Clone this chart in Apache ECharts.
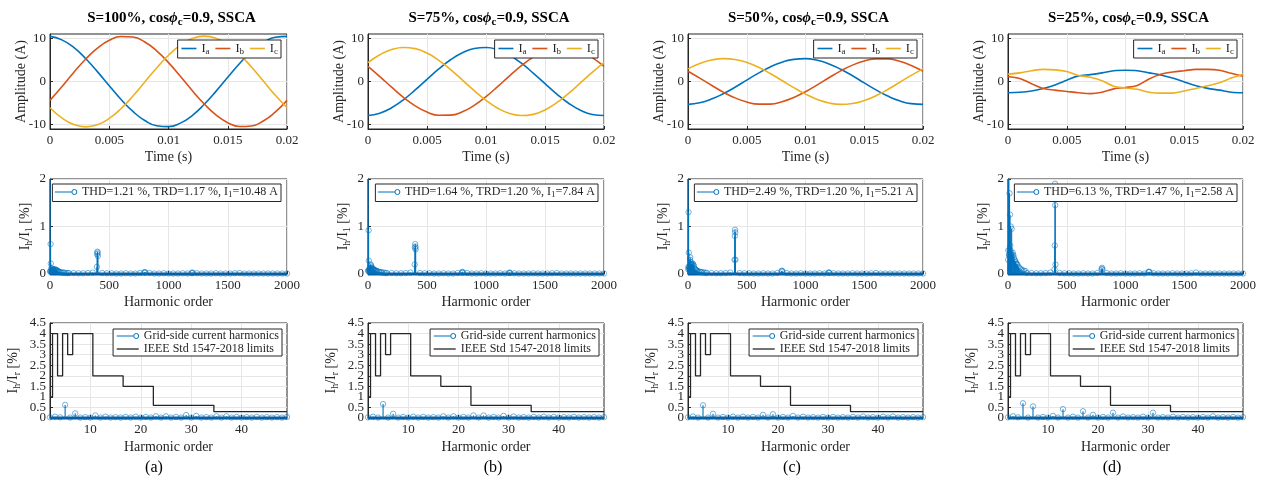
<!DOCTYPE html>
<html>
<head>
<meta charset="utf-8">
<script src="https://cdn.jsdelivr.net/npm/echarts@6/dist/echarts.min.js"></script>
<style>
  html, body { margin: 0; padding: 0; background: #fff; }
  #chart { width: 1267px; height: 483px; }
</style>
</head>
<body>
<div id="chart"></div>
<script>
// ---------------- data ----------------
const panelTags = ['(a)', '(b)', '(c)', '(d)'];
const loadLevels = ['100%', '75%', '50%', '25%'];
const thdValues = ['1.21', '1.64', '2.49', '6.13'];
const trdValues = ['1.17', '1.20', '1.20', '1.47'];
const fundamentalAmps = ['10.48', '7.84', '5.21', '2.58'];

// one grid period of the phase currents (s)
const timeAxis = [0, 0.001, 0.002, 0.003, 0.004, 0.005, 0.006, 0.007, 0.008, 0.009, 0.01,
  0.011, 0.012, 0.013, 0.014, 0.015, 0.016, 0.017, 0.018, 0.019, 0.02];

const ia100 = [10.45, 9.64, 7.88, 5.34, 2.29, -0.99, -4.17, -6.94, -9.04, -10.25, -10.45, -9.64, -7.88, -5.34, -2.29, 0.99, 4.17, 6.94, 9.04, 10.25, 10.45];
const ib100 = [-4.37, -1.21, 2.08, 5.15, 7.73, 9.55, 10.43, 10.29, 9.15, 7.11, 4.37, 1.21, -2.08, -5.15, -7.73, -9.55, -10.43, -10.29, -9.15, -7.11, -4.37];
const ic100 = [-6.08, -8.43, -9.95, -10.5, -10.02, -8.56, -6.26, -3.35, -0.11, 3.14, 6.08, 8.43, 9.95, 10.5, 10.02, 8.56, 6.26, 3.35, 0.11, -3.14, -6.08];

const ia75 = [-7.88, -7.35, -6.09, -4.23, -1.96, 0.5, 2.91, 5.04, 6.67, 7.65, 7.88, 7.35, 6.09, 4.23, 1.96, -0.5, -2.91, -5.04, -6.67, -7.65, -7.88];
const ib75 = [3.51, 1.15, -1.32, -3.66, -5.64, -7.08, -7.82, -7.79, -7.0, -5.53, -3.51, -1.15, 1.32, 3.66, 5.64, 7.08, 7.82, 7.79, 7.0, 5.53, 3.51];
const ic75 = [4.37, 6.19, 7.4, 7.89, 7.61, 6.58, 4.91, 2.75, 0.33, -2.12, -4.37, -6.19, -7.4, -7.89, -7.61, -6.58, -4.91, -2.75, -0.33, 2.12, 4.37];

const ia50 = [-5.29, -4.93, -4.08, -2.84, -1.32, 0.33, 1.95, 3.38, 4.47, 5.13, 5.29, 4.93, 4.08, 2.84, 1.32, -0.33, -1.95, -3.38, -4.47, -5.13, -5.29];
const ib50 = [2.36, 0.77, -0.88, -2.46, -3.79, -4.75, -5.24, -5.23, -4.7, -3.71, -2.36, -0.77, 0.88, 2.46, 3.79, 4.75, 5.24, 5.23, 4.7, 3.71, 2.36];
const ic50 = [2.93, 4.15, 4.97, 5.3, 5.1, 4.41, 3.29, 1.85, 0.22, -1.43, -2.93, -4.15, -4.97, -5.3, -5.1, -4.41, -3.29, -1.85, -0.22, 1.43, 2.93];

const ia25 = [-2.6, -2.5, -2.2, -1.6, -0.8, 0.3, 1.3, 1.6, 2.0, 2.5, 2.6, 2.5, 2.0, 1.5, 0.8, -0.1, -1.0, -1.6, -2.0, -2.5, -2.6];
const ib25 = [1.1, 0.7, -0.5, -1.6, -2.0, -2.3, -2.6, -2.8, -2.5, -1.7, -1.4, -0.9, 0.6, 1.7, 2.2, 2.5, 2.8, 2.8, 2.6, 1.9, 1.2];
const ic25 = [1.7, 2.0, 2.5, 2.8, 2.7, 2.3, 1.4, 1.0, 0.2, -1.1, -1.5, -1.8, -2.5, -2.7, -2.7, -2.2, -1.6, -1.0, -0.3, 0.8, 1.7];

// harmonic spectrum in % of the fundamental
const lowOrders = [1, 2, 3, 5, 7, 9, 11, 13, 15, 17, 19, 21, 23, 25, 27, 29, 31, 35, 40, 45, 50, 55, 60, 65, 70, 75, 80, 90, 100, 110, 120, 135, 150];
const lowMag100 = [100, 0.05, 0.06, 0.63, 0.22, 0.05, 0.12, 0.06, 0.05, 0.08, 0.06, 0.07, 0.1, 0.09, 0.07, 0.1, 0.09, 0.08, 0.09, 0.1, 0.08, 0.07, 0.08, 0.06, 0.05, 0.05, 0.04, 0.04, 0.03, 0.03, 0.03, 0.02, 0.02];
const lowMag75 = [100, 0.06, 0.08, 0.92, 0.28, 0.06, 0.1, 0.08, 0.06, 0.12, 0.12, 0.1, 0.2, 0.18, 0.1, 0.15, 0.12, 0.1, 0.12, 0.1, 0.09, 0.08, 0.08, 0.07, 0.06, 0.06, 0.05, 0.05, 0.04, 0.04, 0.03, 0.03, 0.02];
const lowMag50 = [100, 0.1, 0.15, 1.3, 0.45, 0.1, 0.15, 0.15, 0.1, 0.3, 0.35, 0.2, 0.22, 0.25, 0.15, 0.2, 0.18, 0.2, 0.22, 0.2, 0.17, 0.12, 0.1, 0.09, 0.08, 0.07, 0.06, 0.05, 0.05, 0.04, 0.04, 0.03, 0.03];
const lowMag25 = [100, 0.3, 0.5, 2.8, 2.2, 0.4, 0.4, 1.7, 0.5, 1.25, 0.6, 0.5, 1.0, 0.45, 0.4, 0.35, 0.95, 0.4, 0.45, 0.4, 0.35, 0.3, 0.28, 0.25, 0.22, 0.2, 0.2, 0.15, 0.12, 0.1, 0.08, 0.07, 0.06];

const switchOrders = [396, 398, 400, 402, 404];
const switchMag100 = [0.15, 0.42, 0.47, 0.45, 0.38];
const switchMag75 = [0.2, 0.55, 0.63, 0.58, 0.52];
const switchMag50 = [0.3, 0.8, 0.93, 0.88, 0.3];
const switchMag25 = [0.1, 0.6, 1.9, 1.45, 0.2];

const sidebandOrders = [796, 800, 804, 1196, 1200, 1204, 1600];
const sidebandMag100 = [0.03, 0.04, 0.03, 0.02, 0.03, 0.02, 0.02];
const sidebandMag75 = [0.03, 0.045, 0.03, 0.02, 0.03, 0.02, 0.02];
const sidebandMag50 = [0.06, 0.07, 0.05, 0.03, 0.03, 0.02, 0.02];
const sidebandMag25 = [0.1, 0.13, 0.1, 0.04, 0.05, 0.04, 0.03];

const floorOrders = [160, 200, 240, 280, 320, 360, 440, 480, 520, 560, 600, 640, 680, 720, 760,
  840, 880, 920, 960, 1000, 1040, 1080, 1120, 1160, 1240, 1280, 1320, 1360, 1400, 1440, 1480, 1520, 1560,
  1640, 1680, 1720, 1760, 1800, 1840, 1880, 1920, 1960, 2000];
const floorMag = [0.02, 0.02, 0.015, 0.015, 0.02, 0.03, 0.02, 0.015, 0.015, 0.01, 0.01, 0.015, 0.01, 0.01, 0.02,
  0.02, 0.01, 0.01, 0.015, 0.01, 0.01, 0.01, 0.015, 0.01, 0.015, 0.01, 0.01, 0.01, 0.015, 0.01, 0.01, 0.01, 0.015,
  0.01, 0.01, 0.01, 0.01, 0.01, 0.01, 0.01, 0.01, 0.01, 0.01];

// grid-side harmonics (% of rated current) against IEEE Std 1547-2018
const gridOrders = [2, 3, 4, 5, 6, 7, 8, 9, 10, 11, 12, 13, 14, 15, 16, 17, 18, 19, 20, 21, 22, 23, 24, 25,
  26, 27, 28, 29, 30, 31, 32, 33, 34, 35, 36, 37, 38, 39, 40, 41, 42, 43, 44, 45, 46, 47, 48, 49];
const limit1547 = [1, 4, 2, 4, 3, 4, 4, 4, 4, 2, 2, 2, 2, 2, 2, 1.5, 1.5, 1.5, 1.5, 1.5, 1.5, 0.6, 0.6, 0.6,
  0.6, 0.6, 0.6, 0.6, 0.6, 0.6, 0.6, 0.6, 0.6, 0.3, 0.3, 0.3, 0.3, 0.3, 0.3, 0.3, 0.3, 0.3, 0.3, 0.3, 0.3, 0.3, 0.3, 0.3];
const gridMag100 = [0.03, 0.06, 0.03, 0.62, 0.02, 0.22, 0.02, 0.04, 0.02, 0.12, 0.02, 0.06, 0.02, 0.04, 0.02, 0.05, 0.02, 0.06, 0.02, 0.05, 0.02, 0.08, 0.02, 0.08,
  0.02, 0.05, 0.02, 0.14, 0.02, 0.1, 0.02, 0.04, 0.02, 0.08, 0.02, 0.08, 0.02, 0.05, 0.02, 0.04, 0.02, 0.05, 0.02, 0.04, 0.02, 0.04, 0.02, 0.05];
const gridMag75 = [0.03, 0.06, 0.02, 0.66, 0.02, 0.2, 0.02, 0.05, 0.02, 0.06, 0.02, 0.05, 0.02, 0.04, 0.02, 0.08, 0.02, 0.08, 0.02, 0.05, 0.02, 0.12, 0.02, 0.12,
  0.02, 0.05, 0.02, 0.1, 0.02, 0.07, 0.02, 0.04, 0.02, 0.05, 0.02, 0.06, 0.02, 0.05, 0.02, 0.04, 0.02, 0.05, 0.02, 0.04, 0.02, 0.04, 0.02, 0.04];
const gridMag50 = [0.03, 0.07, 0.02, 0.6, 0.02, 0.2, 0.02, 0.05, 0.02, 0.06, 0.02, 0.06, 0.02, 0.05, 0.02, 0.15, 0.02, 0.18, 0.02, 0.05, 0.02, 0.1, 0.02, 0.06,
  0.02, 0.04, 0.02, 0.05, 0.02, 0.05, 0.02, 0.04, 0.02, 0.05, 0.02, 0.07, 0.02, 0.04, 0.02, 0.06, 0.02, 0.07, 0.02, 0.04, 0.02, 0.04, 0.02, 0.04];
const gridMag25 = [0.03, 0.08, 0.03, 0.7, 0.02, 0.55, 0.02, 0.05, 0.02, 0.1, 0.02, 0.42, 0.02, 0.06, 0.02, 0.32, 0.02, 0.15, 0.02, 0.05, 0.02, 0.25, 0.02, 0.07,
  0.02, 0.04, 0.02, 0.06, 0.02, 0.25, 0.02, 0.04, 0.02, 0.06, 0.02, 0.05, 0.02, 0.04, 0.02, 0.05, 0.02, 0.08, 0.02, 0.04, 0.02, 0.05, 0.02, 0.04];

// axis tick labels
const timeTicks = { min: 0, max: 0.02, step: 0.005 };
const currentTicks = [-10, 0, 10];
const orderTicksWide = { min: 0, max: 2000, step: 500 };
const ratioTicks = { min: 0, max: 2, step: 1 };
const orderTicksNarrow = [10, 20, 30, 40];
const limitTicks = [0, 0.5, 1, 1.5, 2, 2.5, 3, 3.5, 4, 4.5];
const limitLabelsWhole = [0, 1, 2, 3, 4];
const limitLabelsHalf = [0.5, 1.5, 2.5, 3.5, 4.5];

// per-column lookup of the arrays above
const phaseCurrents = [[ia100, ib100, ic100], [ia75, ib75, ic75], [ia50, ib50, ic50], [ia25, ib25, ic25]];
const lowMags = [lowMag100, lowMag75, lowMag50, lowMag25];
const switchMags = [switchMag100, switchMag75, switchMag50, switchMag25];
const sidebandMags = [sidebandMag100, sidebandMag75, sidebandMag50, sidebandMag25];
const gridMags = [gridMag100, gridMag75, gridMag50, gridMag25];

// ---------------- layout & style ----------------
const W = 1267;
const FONT = 'Liberation Serif';
const INK = '#262626';
const BLUE = '#0072BD', RED = '#D95319', YELLOW = '#EDB120';
const BAND = '#0b5a99';
const GRIDLINE = '#e6e6e6';
const colLeft = [50, 368, 688, 1008];
const colWidth = [237, 236, 235, 235];
const rowTop = [34, 179, 323];
const plotHeight = 95;
// legend glyphs: line with a hollow marker at its end, and a plain line
const STEM_ICON = 'path://M0 3 L17 3 M22 3 A2.5 2.5 0 1 1 17 3 A2.5 2.5 0 1 1 22 3';
const LINE_ICON_ROW3 = 'path://M0 0 M22 6 M0 3 L22 3';
const LINE_ICON_ROW1 = 'path://M0 0 M15 10 M0 5 L15 5';

const pairs = (xs, ys) => xs.map((x, i) => [x, ys[i]]);
const plainNumber = v => String(+v.toFixed(6));

const subRich = (size, lh) => ({
  m: { fontFamily: FONT, fontSize: size, color: INK, lineHeight: lh },
  s: { fontFamily: FONT, fontSize: Math.round(size * 0.72), color: INK, lineHeight: Math.round(size * 0.72), verticalAlign: 'bottom' }
});

// stem with hollow marker; the first item also lays the dark zero band
function stemItem(params, api) {
  const h = api.value(0), v = api.value(1);
  const base = api.coord([h, 0]);
  const tip = api.coord([h, v]);
  const box = params.coordSys;
  const clipped = tip[1] < box.y;
  const children = [];
  if (params.dataIndex === 0) {
    children.push({
      type: 'line', z2: -1,
      shape: { x1: box.x, y1: base[1], x2: box.x + box.width, y2: base[1] },
      style: { stroke: BAND, lineWidth: 3 }
    });
  }
  children.push({
    type: 'line',
    shape: { x1: base[0], y1: base[1], x2: tip[0], y2: clipped ? box.y : tip[1] },
    style: { stroke: BLUE, lineWidth: 1.1 }
  });
  if (!clipped) {
    children.push({
      type: 'circle',
      shape: { cx: tip[0], cy: tip[1], r: 2.7 },
      style: { fill: 'none', stroke: BLUE, lineWidth: 0.9, opacity: 0.6 }
    });
  }
  return { type: 'group', children };
}

function valueAxis(gridIndex, o) {
  return {
    type: 'value', gridIndex, position: o.position,
    min: o.min, max: o.max, interval: o.interval,
    name: o.name, nameLocation: 'middle', nameGap: o.nameGap, nameMoveOverlap: false,
    nameTextStyle: { fontFamily: FONT, fontSize: 14, color: INK, rich: subRich(14, 18) },
    axisLine: { show: o.bare ? false : true, onZero: false, lineStyle: { color: INK, width: 1 } },
    axisTick: { show: o.bare ? false : true, inside: true, length: 3, lineStyle: { color: INK }, customValues: o.ticks },
    axisLabel: { show: true, color: INK, fontFamily: FONT, fontSize: 13, margin: o.margin,
      customValues: o.labels || o.ticks, formatter: plainNumber, showMinLabel: true, showMaxLabel: true, hideOverlap: false },
    splitLine: { show: o.bare ? false : true, lineStyle: { color: GRIDLINE, width: 1 } }
  };
}

const grids = [], xAxes = [], yAxes = [], series = [], legends = [], titles = [];

for (let c = 0; c < 4; c++) {
  const right = W - (colLeft[c] + colWidth[c]);
  const center = colLeft[c] + colWidth[c] / 2;

  // header
  titles.push({
    text: '{b|S=' + loadLevels[c] + ', cos}{p|\u03d5}{sub|c}{b|=0.9, SSCA}',
    left: center + 3, top: 8, textAlign: 'center', padding: 0,
    textStyle: {
      fontFamily: FONT,
      rich: {
        b: { fontFamily: FONT, fontSize: 15, fontWeight: 'bold', color: '#000', lineHeight: 20 },
        p: { fontFamily: FONT, fontSize: 15, fontWeight: 'bold', fontStyle: 'italic', color: '#000', lineHeight: 20 },
        sub: { fontFamily: FONT, fontSize: 11, fontWeight: 'bold', color: '#000', lineHeight: 11, verticalAlign: 'bottom' }
      }
    }
  });
  const tagX = [154, 493, 792, 1112][c];
  titles.push({
    text: panelTags[c], left: tagX, top: 460, textAlign: 'center', padding: 0,
    textStyle: { fontFamily: FONT, fontSize: 16, fontWeight: 'normal', color: '#000' }
  });

  const g = [];
  for (let r = 0; r < 3; r++) {
    g.push(grids.push({
      left: colLeft[c], top: rowTop[r], width: colWidth[c], height: plotHeight,
      show: true, borderColor: INK, borderWidth: 1, backgroundColor: '#fff',
      containLabel: false, outerBoundsMode: 'none'
    }) - 1);
  }

  // row 1: phase currents
  const x0 = xAxes.push(valueAxis(g[0], { min: timeTicks.min, max: timeTicks.max, interval: timeTicks.step, name: 'Time (s)', nameGap: 21, margin: 5 })) - 1;
  const y0 = yAxes.push(valueAxis(g[0], { min: -11, max: 11, ticks: currentTicks, name: 'Amplitude (A)', nameGap: 22, margin: 4 })) - 1;
  const phaseNames = ['Ia', 'Ib', 'Ic'];
  const phaseColors = [BLUE, RED, YELLOW];
  phaseNames.forEach((n, k) => {
    series.push({
      type: 'line', name: n, xAxisIndex: x0, yAxisIndex: y0,
      data: pairs(timeAxis, phaseCurrents[c][k]),
      smooth: c === 3 ? 0.35 : true, showSymbol: false, symbol: 'none',
      lineStyle: { color: phaseColors[k], width: 1.6 }, itemStyle: { color: phaseColors[k] },
      clip: true, animation: false
    });
  });
  legends.push({
    right: right + 6, top: rowTop[0] + 6, orient: 'horizontal', selectedMode: false,
    data: phaseNames.map((n, k) => ({
      name: n, icon: LINE_ICON_ROW1,
      itemStyle: { color: 'rgba(0,0,0,0)', borderColor: phaseColors[k], borderWidth: 1.6 }
    })),
    itemWidth: 15, itemHeight: 10, itemGap: 5, padding: [2, 3, 2, 3],
    formatter: n => '{m|I}{s|' + n.slice(1) + '}',
    textStyle: { fontFamily: FONT, fontSize: 12.5, color: INK, rich: subRich(12.5, 15) },
    borderColor: INK, borderWidth: 1, backgroundColor: '#fff', borderRadius: 0
  });

  // row 2: harmonic spectrum
  const specName = 'THD=' + thdValues[c] + ' %, TRD=' + trdValues[c] + ' %, I1=' + fundamentalAmps[c] + ' A';
  const specData = pairs(lowOrders, lowMags[c])
    .concat(pairs(switchOrders, switchMags[c]))
    .concat(pairs(sidebandOrders, sidebandMags[c]))
    .concat(pairs(floorOrders, floorMag));
  const x1 = xAxes.push(valueAxis(g[1], { min: orderTicksWide.min, max: orderTicksWide.max, interval: orderTicksWide.step, name: 'Harmonic order', nameGap: 21, margin: 5 })) - 1;
  const y1 = yAxes.push(valueAxis(g[1], { min: ratioTicks.min, max: ratioTicks.max, interval: ratioTicks.step,
    name: '{m|I}{s|h}{m|/I}{s|1}{m| [%]}', nameGap: 16, margin: 4 })) - 1;
  series.push({
    type: 'custom', name: specName, xAxisIndex: x1, yAxisIndex: y1,
    encode: { x: 0, y: 1 }, dimensions: ['order', 'ratio'],
    renderItem: stemItem, data: specData, itemStyle: { color: BLUE }, animation: false
  });
  legends.push({
    right: right + 6, top: rowTop[1] + 5, orient: 'horizontal', selectedMode: false,
    data: [{ name: specName, icon: STEM_ICON, itemStyle: { color: 'rgba(0,0,0,0)', borderColor: BLUE, borderWidth: 1 } }],
    itemWidth: 22, itemHeight: 6, padding: [2, 3, 2, 2],
    formatter: () => '{m|THD=' + thdValues[c] + ' %, TRD=' + trdValues[c] + ' %, I}{s|1}{m|=' + fundamentalAmps[c] + ' A}',
    textStyle: { fontFamily: FONT, fontSize: 12, color: INK, rich: subRich(12, 15) },
    borderColor: INK, borderWidth: 1, backgroundColor: '#fff'
  });

  // row 3: grid-side harmonics vs. limits (labels split over two stacked left axes)
  const x2 = xAxes.push(valueAxis(g[2], { min: 2, max: 49, ticks: orderTicksNarrow, name: 'Harmonic order', nameGap: 22, margin: 5 })) - 1;
  const y2 = yAxes.push(valueAxis(g[2], { min: 0, max: 4.5, ticks: limitTicks, labels: limitLabelsWhole, position: 'left',
    name: '{m|I}{s|h}{m|/I}{s|r}{m| [%]}', nameGap: 28, margin: 4 })) - 1;
  yAxes.push(valueAxis(g[2], { min: 0, max: 4.5, ticks: limitLabelsHalf, labels: limitLabelsHalf, position: 'left', bare: true, margin: 4 }));
  series.push({
    type: 'line', name: 'IEEE Std 1547-2018 limits', xAxisIndex: x2, yAxisIndex: y2,
    data: pairs(gridOrders, limit1547), step: 'middle', symbol: 'none', showSymbol: false,
    lineStyle: { color: INK, width: 1.3 }, itemStyle: { color: INK }, clip: true, animation: false
  });
  series.push({
    type: 'custom', name: 'Grid-side current harmonics', xAxisIndex: x2, yAxisIndex: y2,
    encode: { x: 0, y: 1 }, dimensions: ['order', 'ratio'],
    renderItem: stemItem, data: pairs(gridOrders, gridMags[c]), itemStyle: { color: BLUE }, animation: false
  });
  legends.push({
    right: right + 5, top: rowTop[2] + 6, orient: 'vertical', selectedMode: false,
    data: [
      { name: 'Grid-side current harmonics', icon: STEM_ICON, itemStyle: { color: 'rgba(0,0,0,0)', borderColor: BLUE, borderWidth: 1 } },
      { name: 'IEEE Std 1547-2018 limits', icon: LINE_ICON_ROW3, itemStyle: { color: 'rgba(0,0,0,0)', borderColor: INK, borderWidth: 1.3 } }
    ],
    itemWidth: 22, itemHeight: 6, itemGap: 1, padding: [1, 3, 1, 3],
    formatter: n => '{m|' + n + '}',
    textStyle: { fontFamily: FONT, fontSize: 12, color: INK, rich: subRich(12, 12) },
    borderColor: INK, borderWidth: 1, backgroundColor: '#fff'
  });
}

const chart = echarts.init(document.getElementById('chart'), null, { renderer: 'canvas' });
chart.setOption({
  animation: false,
  backgroundColor: '#fff',
  textStyle: { fontFamily: FONT },
  title: titles,
  grid: grids,
  xAxis: xAxes,
  yAxis: yAxes,
  legend: legends,
  series: series
});
</script>
</body>
</html>
